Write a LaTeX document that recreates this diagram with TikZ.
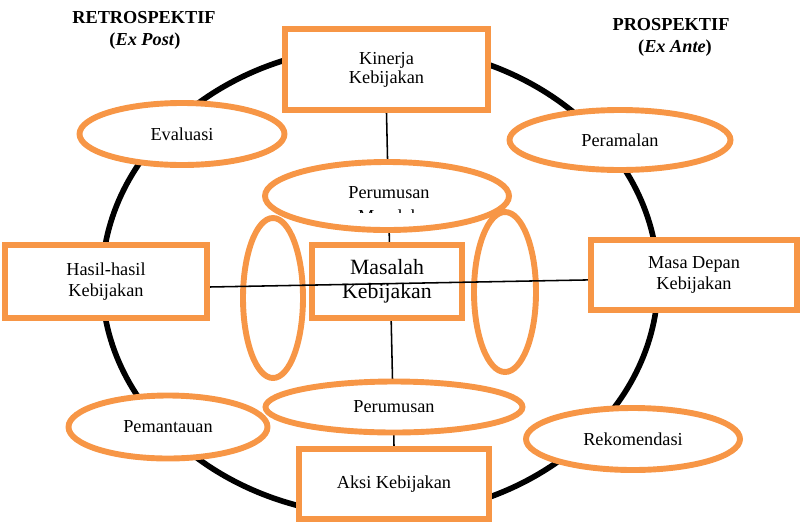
\documentclass[tikz,border=0pt]{standalone}
\usepackage{fontspec}
\setmainfont{Liberation Serif}
\usetikzlibrary{shapes.geometric,backgrounds,calc}
\definecolor{orng}{HTML}{F79646}
\newdimen\pxu
\pxu=0.025cm
\tikzset{
  boxnode/.style={draw=orng, line width=4.5pt, fill=white, rectangle, inner sep=0pt, align=center,
    font=\fontsize{13}{15.5}\selectfont},
  ovalnode/.style={draw=orng, line width=4.2pt, fill=white, ellipse, inner sep=0pt, align=center,
    font=\fontsize{13}{15.5}\selectfont},
  txt/.style={inner sep=0pt, font=\fontsize{13}{15.5}\selectfont, align=center},
  ring/.style={draw=black, line width=4pt},
  thinline/.style={draw=black, line width=1.1pt}
}
\begin{document}
\begin{tikzpicture}[x=0.025cm, y=-0.025cm]
\useasboundingbox (0,0) rectangle (800,521);

% headings
\node[txt, font=\fontsize{13}{15.5}\selectfont\bfseries, anchor=base] (retro) at (144,23) {RETROSPEKTIF};
\node[txt, font=\fontsize{13}{15.5}\selectfont\bfseries, anchor=base] (expost) at (145,45) {(\textit{Ex Post})};
\node[txt, font=\fontsize{13}{15.5}\selectfont\bfseries, anchor=base] (prosp) at (671,30) {PROSPEKTIF};
\node[txt, font=\fontsize{13}{15.5}\selectfont\bfseries, anchor=base] (exante) at (675,52) {(\textit{Ex Ante})};

% boxes
\node[boxnode, minimum width=203\pxu, minimum height=81\pxu] (kin) at (386.5,69.5) {\raisebox{-4pt}{\begin{tabular}{@{}c@{}}Kinerja\\[-1.5pt]Kebijakan\end{tabular}}};
\node[boxnode, minimum width=190\pxu, minimum height=70\pxu] (aksi) at (394,484) {\raisebox{-3pt}{Aksi Kebijakan}};
\node[boxnode, minimum width=150\pxu, minimum height=73\pxu, font=\fontsize{15.5}{17}\selectfont] (masalah) at (387,281.5) {Masalah\\Kebijakan};
\node[boxnode, minimum width=202\pxu, minimum height=73\pxu] (hasil) at (106,281.5) {Hasil-hasil\\Kebijakan};
\node[boxnode, minimum width=206\pxu, minimum height=70\pxu] (masa) at (694,275) {Masa Depan\\Kebijakan};

% ovals
\node[ovalnode, minimum width=205\pxu, minimum height=62\pxu] (eval) at (182,134) {Evaluasi};
\node[ovalnode, minimum width=221\pxu, minimum height=60\pxu] (peram) at (620,140) {Peramalan};
\node[ovalnode, minimum width=244\pxu, minimum height=68\pxu] (perum1) at (387,196) {};
\node[ovalnode, minimum width=60\pxu, minimum height=160\pxu] (lov) at (273,298) {};
\node[ovalnode, minimum width=62\pxu, minimum height=160\pxu] (rov) at (505,292) {};
\node[ovalnode, minimum width=257\pxu, minimum height=51\pxu] (perum2) at (394,407) {Perumusan};
\node[ovalnode, minimum width=199\pxu, minimum height=63\pxu] (pemant) at (168,427) {Pemantauan};
\node[ovalnode, minimum width=214\pxu, minimum height=62\pxu] (rekom) at (633,439) {Rekomendasi};

% clipped text inside top oval
\node[txt, anchor=base] (perum1t) at (389,198) {Perumusan};
\begin{scope}
  \clip (300,200) rectangle (480,212);
  \node[txt, anchor=base] (perum1m) at (389,222) {Masalah};
\end{scope}

% background: ring and vertical connector
\begin{pgfonlayer}{background}
  \draw[ring] (380,281) ellipse [x radius=278\pxu, y radius=235\pxu];
  \draw[thinline] (kin.south) -- (aksi.north);
\end{pgfonlayer}

% horizontal connector on top
\draw[thinline] ([yshift=-3.9pt]hasil.east) -- ([yshift=-3.5pt]masa.west);
\end{tikzpicture}
\end{document}
